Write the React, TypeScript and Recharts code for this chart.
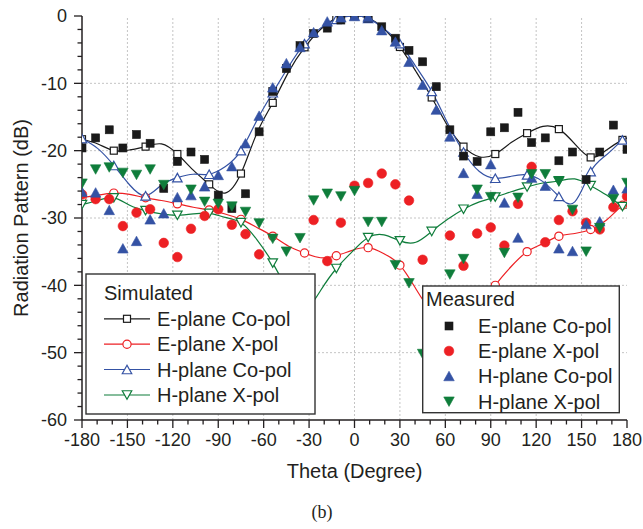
import React from 'react';
import { ComposedChart, XAxis, YAxis, Line, Scatter, ReferenceLine } from 'recharts';

// ---------- data ----------
const MEAS_THETA = [-180, -171, -162, -153, -144, -135, -126, -117, -108, -99, -90, -81, -72, -63, -54, -45, -36, -27, -18, -9, 0, 9, 18, 27, 36, 45, 54, 63, 72, 81, 90, 99, 108, 117, 126, 135, 144, 153, 162, 171, 180];

const MEAS_E_CO = [-19.6, -18.1, -16.9, -19.6, -17.6, -18.9, -25.6, -21.6, -20.2, -21.3, -26.6, -28.6, -26.4, -17.2, -11.2, -7.8, -4.4, -2.6, -1.8, -0.6, 0, -0.3, -1.6, -3.3, -5.1, -6.8, -10.5, -16.9, -20.8, -21.6, -17.2, -16.6, -14.3, -18.8, -18.1, -21.5, -20.2, -24.3, -20.2, -16.2, -19.8];
const MEAS_E_X: (number | null)[] = [-26.5, -27.2, -27.2, -31.2, -29.2, -28.7, -33.7, -35.8, -31.6, -29.7, -28.7, -31.0, -32.4, -35.4, null, null, null, -30.3, -36.4, -30.7, -25.2, -24.8, -23.4, -25.0, -27.4, -36.2, null, -32.6, -37.1, -32.3, -31.4, -34.1, -27.9, -22.4, -33.6, -30.3, -29.0, -30.7, -31.7, -28.4, -26.8];
const MEAS_H_CO = [-26.1, -26.2, -28.8, -34.5, -33.4, -30.2, -29.3, -26.9, -26.6, -25.3, -23.6, -22.3, -18.9, -14.8, -10.6, -7.0, -4.6, -2.4, -0.8, -0.2, 0, -0.1, -2.1, -3.8, -6.8, -10.2, -13.9, -17.9, -23.3, -26.4, -22.0, -27.7, -32.9, -24.0, -25.2, -34.5, -34.9, -30.9, -30.5, -25.8, -25.6];
const MEAS_H_X: (number | null)[] = [-24.9, -22.8, -22.5, -23.3, -23.6, -22.8, -25.1, null, -25.8, -27.6, -27.9, -28.3, -29.1, -30.8, -33.1, -35.0, -33.0, -27.4, -26.4, -26.8, -26.0, -30.6, -30.6, -37.0, -39.7, -50.2, null, -38.4, -36.1, -25.8, -26.9, -35.2, -27.0, -23.5, -23.5, -24.6, -28.8, -35.0, -31.5, -27.2, -24.8];

const SIM_THETA = [-180, -169.5, -159, -148.5, -138, -127.5, -117, -106.5, -96, -85.5, -75, -64.5, -54, -43.5, -33, -22.5, -12, -1.5, 9, 19.5, 30, 40.5, 51, 61.5, 72, 82.5, 93, 103.5, 114, 124.5, 135, 145.5, 156, 166.5, 177, 180];

const SIM_E_CO = [-18.3, -19.0, -20.0, -19.9, -19.4, -19.0, -20.5, -22.9, -25.0, -26.3, -23.4, -17.4, -12.9, -8.3, -4.65, -2.0, -0.35, 0, -0.3, -1.9, -4.6, -8.2, -12.1, -16.3, -19.4, -20.9, -20.5, -18.8, -17.4, -16.4, -16.8, -19.0, -21.0, -19.9, -18.4, -18.2];
const SIM_E_X = [-27.0, -26.6, -26.3, -26.5, -27.0, -27.4, -27.9, -28.4, -28.8, -29.4, -30.2, -31.4, -32.7, -34.2, -35.2, -35.9, -35.6, -34.8, -34.4, -35.3, -37.0, -40.5, -44.0, -46.0, -46.0, -43.5, -40.0, -37.2, -35.0, -33.8, -32.7, -32.3, -31.7, -30.3, -28.1, -27.8];
const SIM_H_CO = [-18.2, -19.7, -22.2, -25.1, -26.7, -25.1, -24.0, -23.5, -23.5, -22.4, -20.0, -15.5, -11.4, -7.5, -4.1, -1.8, -0.5, 0, -0.35, -1.9, -4.1, -7.5, -11.2, -15.9, -20.2, -23.1, -24.1, -23.8, -23.6, -24.6, -26.8, -27.6, -23.1, -20.6, -18.4, -18.2];
const SIM_H_X = [-28.0, -27.4, -27.0, -28.1, -28.9, -29.4, -29.6, -29.4, -29.3, -29.9, -30.7, -33.2, -36.7, -41.0, -43.5, -40.8, -37.5, -35.0, -32.9, -32.5, -33.4, -33.6, -32.0, -30.2, -28.7, -27.6, -26.9, -26.1, -25.4, -24.8, -24.5, -24.2, -25.2, -26.6, -28.3, -28.5];

const X_TICKS = [-180, -170, -160, -150, -140, -130, -120, -110, -100, -90, -80, -70, -60, -50, -40, -30, -20, -10, 0, 10, 20, 30, 40, 50, 60, 70, 80, 90, 100, 110, 120, 130, 140, 150, 160, 170, 180];
const X_GRID = [-150, -120, -90, -60, -30, 0, 30, 60, 90, 120, 150];
const Y_TICKS = [0, -2, -4, -6, -8, -10, -12, -14, -16, -18, -20, -22, -24, -26, -28, -30, -32, -34, -36, -38, -40, -42, -44, -46, -48, -50, -52, -54, -56, -58, -60];
const Y_GRID = [-10, -20, -30, -40, -50];

const SIM_LABELS = ['E-plane Co-pol', 'E-plane X-pol', 'H-plane Co-pol', 'H-plane X-pol'];
const MEAS_LABELS = ['E-plane Co-pol', 'E-plane X-pol', 'H-plane Co-pol', 'H-plane X-pol'];

// ---------- style ----------
const W = 643, H = 529;
const PL = 82, PR = 627, PT = 16, PB = 420;
const TEXT = '#231f20';
const AXIS = '#231f20';
const FONT = '"Liberation Sans", Arial, sans-serif';
const C_BLACK = '#1a1a1a';
const C_RED = '#ed2024';
const C_BLUE = '#3452a4';
const C_GREEN = '#0f7d3b';
const KINDS = ['square', 'circle', 'up', 'down'];
const COLORS = [C_BLACK, C_RED, C_BLUE, C_GREEN];

const simData = (ys: number[]) => SIM_THETA.map((x, i) => ({ x, y: ys[i] }));
const measData = (ys: (number | null)[]) =>
  MEAS_THETA.map((x, i) => ({ x, y: ys[i] })).filter((d) => d.y !== null && d.y !== undefined);

function Marker({ kind, cx, cy, color, filled }: { kind: string; cx: number; cy: number; color: string; filled: boolean }) {
  const fill = filled ? color : '#ffffff';
  const stroke = color;
  const sw = filled ? 0.6 : 1.2;
  if (kind === 'square') {
    const s = filled ? 8 : 7;
    return <rect x={cx - s / 2} y={cy - s / 2} width={s} height={s} fill={fill} stroke={stroke} strokeWidth={sw} />;
  }
  if (kind === 'circle') {
    const r = filled ? 4.8 : 4.1;
    return <circle cx={cx} cy={cy} r={r} fill={fill} stroke={stroke} strokeWidth={sw} />;
  }
  const w = filled ? 10.5 : 9.5;
  const h = filled ? 9.5 : 8.5;
  if (kind === 'up') {
    const pts = `${cx},${cy - h / 2} ${cx - w / 2},${cy + h / 2} ${cx + w / 2},${cy + h / 2}`;
    return <polygon points={pts} fill={fill} stroke={stroke} strokeWidth={sw} strokeLinejoin="miter" />;
  }
  const pts = `${cx},${cy + h / 2} ${cx - w / 2},${cy - h / 2} ${cx + w / 2},${cy - h / 2}`;
  return <polygon points={pts} fill={fill} stroke={stroke} strokeWidth={sw} strokeLinejoin="miter" />;
}

const BottomTick = (props: any) => {
  const { x, payload } = props;
  const v = payload.value;
  const major = v % 30 === 0;
  return (
    <g>
      <line x1={x} x2={x} y1={PB} y2={PB + (major ? 8 : 4.5)} stroke={AXIS} strokeWidth={1.3} />
      {major && (
        <text x={x} y={446} textAnchor="middle" fontSize={18} fontFamily={FONT} fill={TEXT}>
          {v}
        </text>
      )}
    </g>
  );
};

const TopTick = (props: any) => {
  const { x, payload } = props;
  const major = payload.value % 30 === 0;
  return <line x1={x} x2={x} y1={PT} y2={PT + (major ? 7.5 : 5)} stroke={AXIS} strokeWidth={1.3} />;
};

const LeftTick = (props: any) => {
  const { y, payload } = props;
  const v = payload.value;
  const major = v % 10 === 0;
  return (
    <g>
      <line x1={PL - (major ? 8 : 4.5)} x2={PL} y1={y} y2={y} stroke={AXIS} strokeWidth={1.3} />
      {major && (
        <text x={67} y={y + 6.4} textAnchor="end" fontSize={18} fontFamily={FONT} fill={TEXT}>
          {v}
        </text>
      )}
    </g>
  );
};

const RightTick = (props: any) => {
  const { y, payload } = props;
  const major = payload.value % 10 === 0;
  return <line x1={PR - (major ? 7.5 : 5)} x2={PR} y1={y} y2={y} stroke={AXIS} strokeWidth={1.3} />;
};

const makeDot = (kind: string, color: string) => (p: any) => {
  const show = p.index % 2 === 0 && p.index < SIM_THETA.length - 1;
  if (!show || p.cx == null || p.cy == null) return <g key={`d${p.index}`} />;
  return (
    <g key={`d${p.index}`}>
      <Marker kind={kind} cx={p.cx} cy={p.cy} color={color} filled={false} />
    </g>
  );
};

const makeShape = (kind: string, color: string) => (p: any) => (
  <Marker kind={kind} cx={p.cx} cy={p.cy} color={color} filled={true} />
);

const SIM_SERIES = [SIM_E_CO, SIM_E_X, SIM_H_CO, SIM_H_X];
const MEAS_SERIES = [MEAS_E_CO, MEAS_E_X, MEAS_H_CO, MEAS_H_X];

export default function App() {
  const simTitleY = 300;
  const simRowsY = [326, 351.4, 376.7, 402.2];
  const measTitleY = 306;
  const measRowsY = [333.2, 358.2, 383.2, 408.9];
  return (
    <div style={{ position: 'absolute', left: 0, top: 0, width: W, height: H, background: '#fff' }}>
      <ComposedChart width={W} height={H} margin={{ top: PT, right: W - PR, bottom: 0, left: 0 }}>
        <XAxis
          xAxisId="b"
          type="number"
          dataKey="x"
          domain={[-180, 180]}
          ticks={X_TICKS}
          interval={0}
          height={H - PB}
          tickLine={false}
          tickSize={0}
          tick={<BottomTick />}
          axisLine={{ stroke: AXIS, strokeWidth: 1.5 }}
          allowDataOverflow
        />
        <XAxis
          xAxisId="t"
          orientation="top"
          type="number"
          dataKey="x"
          domain={[-180, 180]}
          ticks={X_TICKS}
          interval={0}
          height={0}
          tickLine={false}
          tickSize={0}
          tick={<TopTick />}
          axisLine={{ stroke: AXIS, strokeWidth: 1.5 }}
          allowDataOverflow
        />
        <YAxis
          yAxisId="l"
          type="number"
          dataKey="y"
          domain={[-60, 0]}
          ticks={Y_TICKS}
          interval={0}
          width={PL}
          tickLine={false}
          tickSize={0}
          tick={<LeftTick />}
          axisLine={{ stroke: AXIS, strokeWidth: 1.5 }}
          allowDataOverflow
        />
        <YAxis
          yAxisId="r"
          orientation="right"
          type="number"
          dataKey="y"
          domain={[-60, 0]}
          ticks={Y_TICKS}
          interval={0}
          width={0}
          tickLine={false}
          tickSize={0}
          tick={<RightTick />}
          axisLine={{ stroke: AXIS, strokeWidth: 1.5 }}
          allowDataOverflow
        />
        {X_GRID.map((v) => (
          <ReferenceLine key={`gx${v}`} xAxisId="b" yAxisId="l" x={v} stroke="#c4c4c4" strokeDasharray="2 2" strokeWidth={1} />
        ))}
        {Y_GRID.map((v) => (
          <ReferenceLine key={`gy${v}`} xAxisId="b" yAxisId="l" y={v} stroke="#c4c4c4" strokeDasharray="2 2" strokeWidth={1} />
        ))}
        {SIM_SERIES.map((ys, i) => (
          <Line
            key={`sim${i}`}
            xAxisId="b"
            yAxisId="l"
            data={simData(ys)}
            dataKey="y"
            type="natural"
            stroke={COLORS[i]}
            strokeWidth={1.2}
            dot={makeDot(KINDS[i], COLORS[i])}
            activeDot={false}
            isAnimationActive={false}
            legendType="none"
          />
        ))}
        {MEAS_SERIES.map((ys, i) => (
          <Scatter
            key={`meas${i}`}
            xAxisId="b"
            yAxisId="l"
            data={measData(ys)}
            dataKey="y"
            fill={COLORS[i]}
            shape={makeShape(KINDS[i], COLORS[i])}
            isAnimationActive={false}
            legendType="none"
          />
        ))}
      </ComposedChart>

      <svg width={W} height={H} style={{ position: 'absolute', left: 0, top: 0, pointerEvents: 'none' }}>
        {/* axis titles */}
        <text x={354.5} y={478} textAnchor="middle" fontSize={20} fontFamily={FONT} fill={TEXT}>
          Theta (Degree)
        </text>
        <text transform="translate(28,218) rotate(-90)" textAnchor="middle" fontSize={20} fontFamily={FONT} fill={TEXT}>
          Radiation Pattern (dB)
        </text>
        <text x={322} y={518} textAnchor="middle" fontSize={18} fontFamily='"Liberation Serif", "Times New Roman", serif' fill={TEXT}>
          (b)
        </text>

        {/* simulated legend */}
        <rect x={86} y={274} width={229} height={140} fill="#fff" stroke="#333" strokeWidth={1.4} />
        <text x={104} y={simTitleY} fontSize={20} fontFamily={FONT} fill={TEXT}>
          Simulated
        </text>
        {SIM_LABELS.map((lab, i) => (
          <g key={`sl${i}`}>
            <line x1={104} x2={150} y1={simRowsY[i] - 7.2} y2={simRowsY[i] - 7.2} stroke={COLORS[i]} strokeWidth={1.2} />
            <Marker kind={KINDS[i]} cx={127} cy={simRowsY[i] - 7.2} color={COLORS[i]} filled={false} />
            <text x={157} y={simRowsY[i]} fontSize={20} fontFamily={FONT} fill={TEXT}>
              {lab}
            </text>
          </g>
        ))}

        {/* measured legend */}
        <rect x={422.7} y={286} width={196.6} height={126.7} fill="#fff" stroke="#333" strokeWidth={1.4} />
        <text x={426} y={measTitleY} fontSize={20} fontFamily={FONT} fill={TEXT}>
          Measured
        </text>
        {MEAS_LABELS.map((lab, i) => (
          <g key={`ml${i}`}>
            <Marker kind={KINDS[i]} cx={449} cy={measRowsY[i] - 7.2} color={COLORS[i]} filled={true} />
            <text x={478} y={measRowsY[i]} fontSize={20} fontFamily={FONT} fill={TEXT}>
              {lab}
            </text>
          </g>
        ))}
      </svg>
    </div>
  );
}
